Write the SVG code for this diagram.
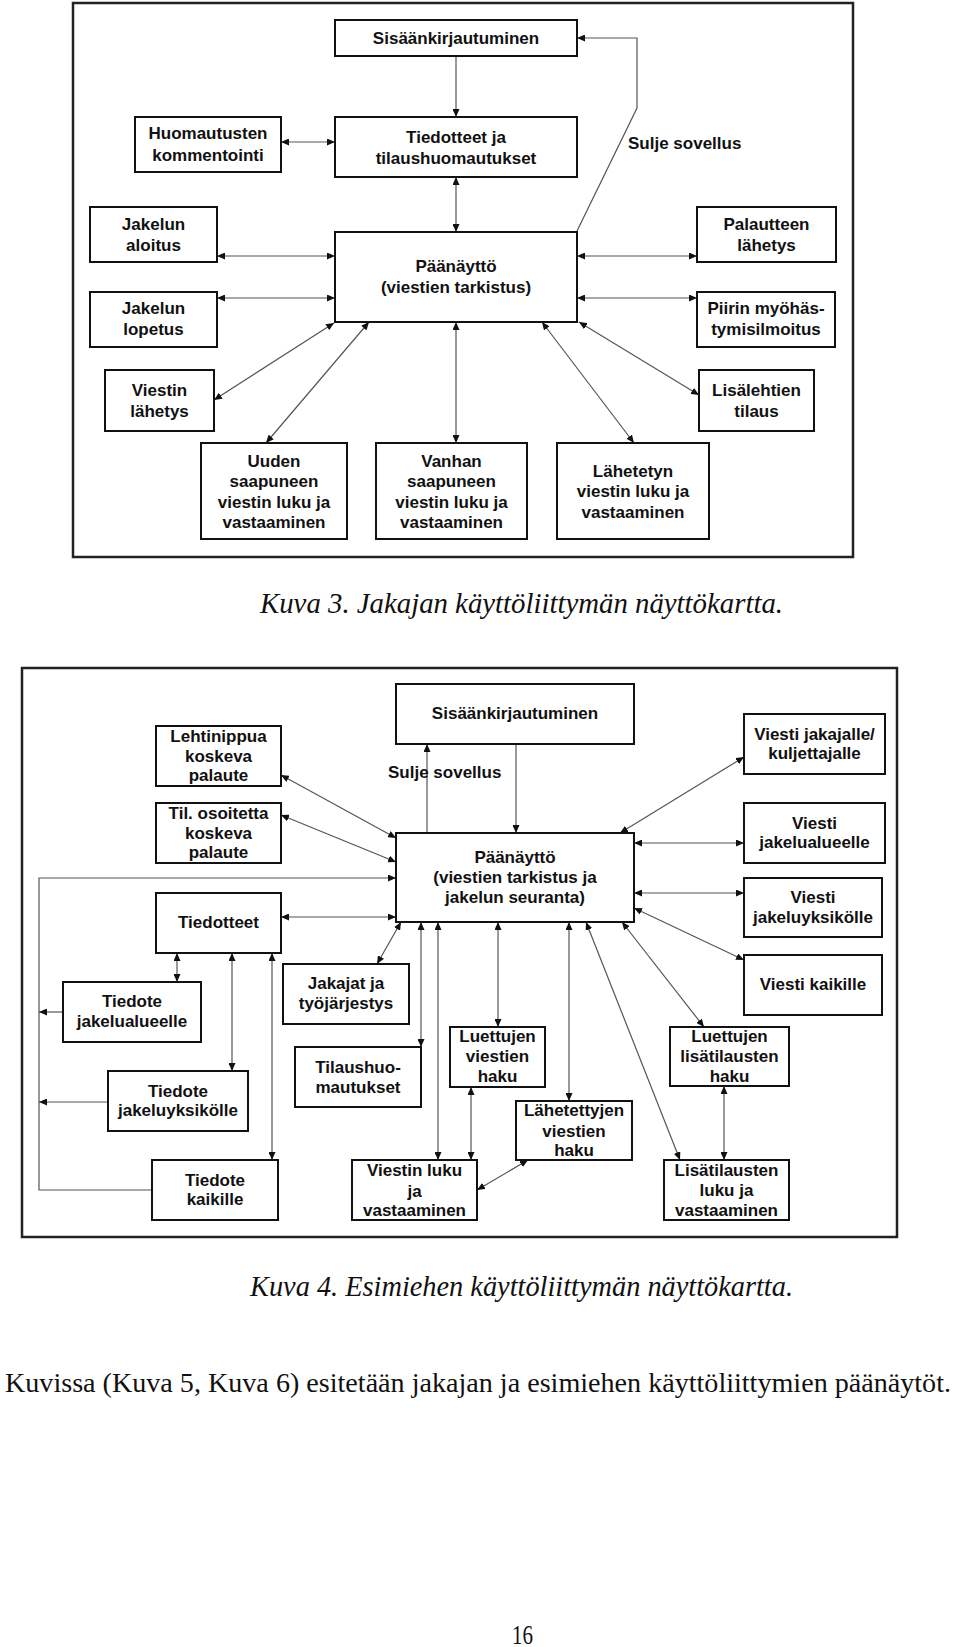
<svg xmlns="http://www.w3.org/2000/svg" width="960" height="1647" viewBox="0 0 960 1647">
<defs>
<marker id="ah" viewBox="0 0 8 7" refX="8" refY="3.5" markerWidth="8" markerHeight="7" markerUnits="userSpaceOnUse" orient="auto-start-reverse">
<path d="M0,0 L8,3.5 L0,7 z" fill="#111"/>
</marker>
<style>
.frame{fill:none;stroke:#222;stroke-width:2.5}
.box{fill:#fff;stroke:#111;stroke-width:2}
.t{font-family:"Liberation Sans",Arial,sans-serif;font-weight:bold;font-size:17px;text-anchor:middle;fill:#111}
.ts{font-family:"Liberation Sans",Arial,sans-serif;font-weight:bold;font-size:17px;text-anchor:start;fill:#111}
.c line,.c polyline{stroke:#555;stroke-width:1.2;fill:none}
.d{marker-start:url(#ah);marker-end:url(#ah)}
.e{marker-end:url(#ah)}
.cap{font-family:"Liberation Serif","Times New Roman",serif;font-style:italic;font-size:29px;fill:#111}
.body{font-family:"Liberation Serif","Times New Roman",serif;font-size:28px;fill:#111}
</style>
</defs>
<rect width="960" height="1647" fill="#fff"/>

<!-- Diagram 1 -->
<rect class="frame" x="73" y="3" width="780" height="554"/>
<g class="c" id="connectors1">
<line class="e" x1="456" y1="56" x2="456" y2="117"/>
<line class="d" x1="456" y1="177" x2="456" y2="232"/>
<line class="d" x1="281" y1="142" x2="335" y2="142"/>
<line class="d" x1="217" y1="256" x2="335" y2="256"/>
<line class="d" x1="577" y1="256" x2="697" y2="256"/>
<line class="d" x1="217" y1="298" x2="335" y2="298"/>
<line class="d" x1="577" y1="298" x2="697" y2="298"/>
<line class="d" x1="334" y1="323" x2="214" y2="400"/>
<line class="d" x1="369" y1="322" x2="266" y2="443"/>
<line class="d" x1="456" y1="322" x2="456" y2="443"/>
<line class="d" x1="542" y1="322" x2="634" y2="443"/>
<line class="d" x1="579" y1="322" x2="699" y2="395"/>
<polyline class="e" points="577,231 637,108 637,38 577,38"/>
</g>
<g id="n1-sisaan"><rect class="box" x="335" y="20" width="242" height="36"/><text class="t" x="456" y="44">Sisäänkirjautuminen</text></g>
<g id="n1-huom"><rect class="box" x="135" y="117" width="146" height="55"/><text class="t" x="208" y="139">Huomautusten</text><text class="t" x="208" y="161">kommentointi</text></g>
<g id="n1-tied"><rect class="box" x="335" y="117" width="242" height="60"/><text class="t" x="456" y="143">Tiedotteet ja</text><text class="t" x="456" y="164">tilaushuomautukset</text></g>
<g id="n1-sulje"><text class="ts" x="628" y="149">Sulje sovellus</text></g>
<g id="n1-jalo"><rect class="box" x="90" y="207" width="127" height="55"/><text class="t" x="153.5" y="230">Jakelun</text><text class="t" x="153.5" y="251">aloitus</text></g>
<g id="n1-paa"><rect class="box" x="335" y="232" width="242" height="90"/><text class="t" x="456" y="272">Päänäyttö</text><text class="t" x="456" y="293">(viestien tarkistus)</text></g>
<g id="n1-pal"><rect class="box" x="697" y="207" width="139" height="55"/><text class="t" x="766.5" y="230">Palautteen</text><text class="t" x="766.5" y="251">lähetys</text></g>
<g id="n1-jlop"><rect class="box" x="90" y="292" width="127" height="55"/><text class="t" x="153.5" y="314">Jakelun</text><text class="t" x="153.5" y="335">lopetus</text></g>
<g id="n1-piiri"><rect class="box" x="697" y="292" width="138" height="55"/><text class="t" x="766" y="314">Piirin myöhäs-</text><text class="t" x="766" y="335">tymisilmoitus</text></g>
<g id="n1-vlah"><rect class="box" x="105" y="370" width="109" height="61"/><text class="t" x="159.5" y="396">Viestin</text><text class="t" x="159.5" y="417">lähetys</text></g>
<g id="n1-lisa"><rect class="box" x="699" y="370" width="115" height="61"/><text class="t" x="756.5" y="396">Lisälehtien</text><text class="t" x="756.5" y="417">tilaus</text></g>
<g id="n1-uuden"><rect class="box" x="201" y="443" width="146" height="96"/><text class="t" x="274" y="467">Uuden</text><text class="t" x="274" y="487">saapuneen</text><text class="t" x="274" y="508">viestin luku ja</text><text class="t" x="274" y="528">vastaaminen</text></g>
<g id="n1-vanhan"><rect class="box" x="376" y="443" width="151" height="96"/><text class="t" x="451.5" y="467">Vanhan</text><text class="t" x="451.5" y="487">saapuneen</text><text class="t" x="451.5" y="508">viestin luku ja</text><text class="t" x="451.5" y="528">vastaaminen</text></g>
<g id="n1-lahet"><rect class="box" x="557" y="443" width="152" height="96"/><text class="t" x="633" y="477">Lähetetyn</text><text class="t" x="633" y="497">viestin luku ja</text><text class="t" x="633" y="518">vastaaminen</text></g>

<text class="cap" x="260" y="613" textLength="523" lengthAdjust="spacingAndGlyphs">Kuva 3. Jakajan käyttöliittymän näyttökartta.</text>

<!-- Diagram 2 -->
<rect class="frame" x="22" y="668" width="875" height="569"/>
<g class="c" id="connectors2">
<line class="e" x1="427" y1="833" x2="427" y2="744"/>
<line class="e" x1="516" y1="744" x2="516" y2="833"/>
<line class="d" x1="281" y1="775" x2="396" y2="838"/>
<line class="d" x1="281" y1="815" x2="396" y2="862"/>
<polyline class="e" points="152,1190 39,1190 39,878 396,878"/>
<line class="e" x1="63" y1="1012" x2="39" y2="1012"/>
<line class="e" x1="108" y1="1102" x2="39" y2="1102"/>
<line class="d" x1="281" y1="917" x2="396" y2="917"/>
<line class="d" x1="177" y1="953" x2="177" y2="982"/>
<line class="d" x1="232" y1="953" x2="232" y2="1071"/>
<line class="d" x1="272" y1="953" x2="272" y2="1160"/>
<line class="d" x1="401" y1="922" x2="377" y2="964"/>
<line class="d" x1="421" y1="922" x2="421" y2="1047"/>
<line class="d" x1="438" y1="922" x2="438" y2="1160"/>
<line class="d" x1="498" y1="922" x2="498" y2="1027"/>
<line class="d" x1="569" y1="922" x2="569" y2="1101"/>
<line class="d" x1="586" y1="922" x2="680" y2="1160"/>
<line class="d" x1="622" y1="922" x2="704" y2="1027"/>
<line class="d" x1="634" y1="908" x2="744" y2="960"/>
<line class="d" x1="634" y1="843" x2="744" y2="843"/>
<line class="d" x1="634" y1="893" x2="744" y2="893"/>
<line class="d" x1="620" y1="833" x2="744" y2="757"/>
<line class="d" x1="471" y1="1087" x2="471" y2="1160"/>
<line class="d" x1="528" y1="1160" x2="477" y2="1190"/>
<line class="d" x1="724" y1="1086" x2="724" y2="1160"/>
</g>
<g id="n2-sisaan"><rect class="box" x="396" y="684" width="238" height="60"/><text class="t" x="515" y="719">Sisäänkirjautuminen</text></g>
<g id="n2-lehti"><rect class="box" x="156" y="726" width="125" height="60"/><text class="t" x="218.5" y="742">Lehtinippua</text><text class="t" x="218.5" y="762">koskeva</text><text class="t" x="218.5" y="781">palaute</text></g>
<g id="n2-til"><rect class="box" x="156" y="803" width="125" height="60"/><text class="t" x="218.5" y="819">Til. osoitetta</text><text class="t" x="218.5" y="839">koskeva</text><text class="t" x="218.5" y="858">palaute</text></g>
<g id="n2-sulje"><text class="ts" x="388" y="778">Sulje sovellus</text></g>
<g id="n2-tiedotteet"><rect class="box" x="156" y="893" width="125" height="60"/><text class="t" x="218.5" y="928">Tiedotteet</text></g>
<g id="n2-paa"><rect class="box" x="396" y="833" width="238" height="89"/><text class="t" x="515" y="863">Päänäyttö</text><text class="t" x="515" y="883">(viestien tarkistus ja</text><text class="t" x="515" y="903">jakelun seuranta)</text></g>
<g id="n2-vjak"><rect class="box" x="744" y="714" width="141" height="60"/><text class="t" x="814.5" y="740">Viesti jakajalle/</text><text class="t" x="814.5" y="759">kuljettajalle</text></g>
<g id="n2-value"><rect class="box" x="744" y="803" width="141" height="60"/><text class="t" x="814.5" y="829">Viesti</text><text class="t" x="814.5" y="848">jakelualueelle</text></g>
<g id="n2-vyks"><rect class="box" x="744" y="878" width="138" height="59"/><text class="t" x="813" y="903">Viesti</text><text class="t" x="813" y="923">jakeluyksikölle</text></g>
<g id="n2-vkaik"><rect class="box" x="744" y="955" width="138" height="60"/><text class="t" x="813" y="990">Viesti kaikille</text></g>
<g id="n2-talue"><rect class="box" x="63" y="982" width="138" height="60"/><text class="t" x="132" y="1007">Tiedote</text><text class="t" x="132" y="1027">jakelualueelle</text></g>
<g id="n2-tyks"><rect class="box" x="108" y="1071" width="140" height="60"/><text class="t" x="178" y="1097">Tiedote</text><text class="t" x="178" y="1116">jakeluyksikölle</text></g>
<g id="n2-tkaik"><rect class="box" x="152" y="1160" width="126" height="60"/><text class="t" x="215" y="1186">Tiedote</text><text class="t" x="215" y="1205">kaikille</text></g>
<g id="n2-jakajat"><rect class="box" x="283" y="964" width="126" height="60"/><text class="t" x="346" y="989">Jakajat ja</text><text class="t" x="346" y="1009">työjärjestys</text></g>
<g id="n2-tilaus"><rect class="box" x="295" y="1047" width="126" height="60"/><text class="t" x="358" y="1073">Tilaushuo-</text><text class="t" x="358" y="1093">mautukset</text></g>
<g id="n2-vluku"><rect class="box" x="352" y="1160" width="125" height="60"/><text class="t" x="414.5" y="1176">Viestin luku</text><text class="t" x="414.5" y="1197">ja</text><text class="t" x="414.5" y="1216">vastaaminen</text></g>
<g id="n2-lvhaku"><rect class="box" x="450" y="1027" width="95" height="60"/><text class="t" x="497.5" y="1042">Luettujen</text><text class="t" x="497.5" y="1062">viestien</text><text class="t" x="497.5" y="1082">haku</text></g>
<g id="n2-lahhaku"><rect class="box" x="516" y="1101" width="116" height="59"/><text class="t" x="574" y="1116">Lähetettyjen</text><text class="t" x="574" y="1137">viestien</text><text class="t" x="574" y="1156">haku</text></g>
<g id="n2-llhaku"><rect class="box" x="670" y="1027" width="119" height="59"/><text class="t" x="729.5" y="1042">Luettujen</text><text class="t" x="729.5" y="1062">lisätilausten</text><text class="t" x="729.5" y="1082">haku</text></g>
<g id="n2-lisluku"><rect class="box" x="664" y="1160" width="125" height="60"/><text class="t" x="726.5" y="1176">Lisätilausten</text><text class="t" x="726.5" y="1196">luku ja</text><text class="t" x="726.5" y="1216">vastaaminen</text></g>

<text class="cap" x="250" y="1296" textLength="543" lengthAdjust="spacingAndGlyphs">Kuva 4. Esimiehen käyttöliittymän näyttökartta.</text>
<text class="body" x="5" y="1392" textLength="946" lengthAdjust="spacingAndGlyphs">Kuvissa (Kuva 5, Kuva 6) esitetään jakajan ja esimiehen käyttöliittymien päänäytöt.</text>
<text class="body" x="512" y="1644" textLength="21" lengthAdjust="spacingAndGlyphs">16</text>
</svg>
